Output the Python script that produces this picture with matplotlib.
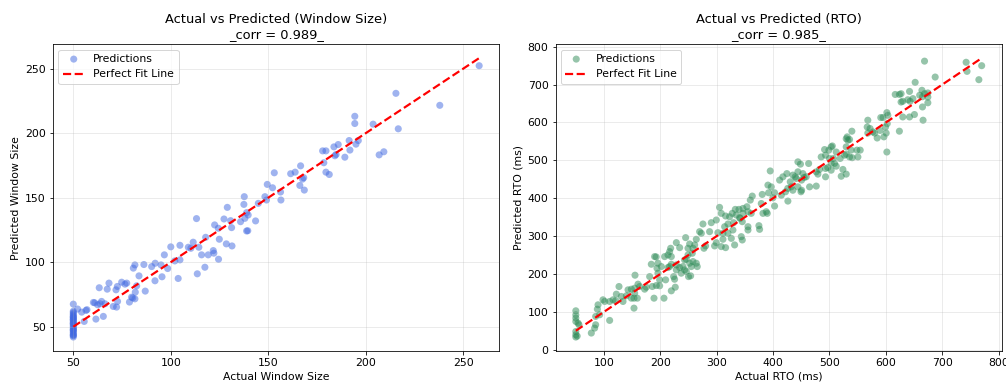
import matplotlib.pyplot as plt

# Window size: actual vs predicted
ws_actual = [258.2, 215.5, 238, 216.7, 194.4, 194.4, 203.8, 206.9, 209.3, 191.5,
             196.2, 195, 191.9, 189.3, 185.9, 183.7, 184.2, 184.8, 177.9, 179.6,
             178.5, 179.6, 181.3, 166.6, 161.5, 163.8, 167.6, 168.2, 166.2, 168.5,
             153.1, 149.5, 152.2, 148.3, 149.1, 156.3, 156.5, 144.9, 137.7, 137.5,
             138.9, 139.7, 138, 135.8, 143.5, 138.9, 139.5, 129, 127.3, 130.7,
             131.2, 122.5, 124.4, 124.9, 128.5, 131.4, 113.2, 111.5, 109, 110.3,
             114.4, 117.9, 115.8, 119.2, 121.8, 122.1, 124.5, 117.5, 113.6, 100,
             104.7, 96.7, 102.1, 104.7, 98.4, 95, 92, 90.2, 86.2, 91.9,
             95.5, 103.8, 81.6, 80.8, 83.7, 86.9, 74.8, 77.4, 76.5, 72.6,
             71.9, 68.3, 67.4, 63.3, 82.5, 81.8, 79.9, 80.5, 81.6, 78.8,
             72.7, 72.2, 70.5, 64.5, 60.3, 61, 63.7, 66.2, 62.5, 65.4,
             61.6, 56.5, 54.3, 55.6, 52.2, 57,
             50, 50, 50, 50, 50, 50, 50, 50, 50, 50, 50, 50, 50, 50,
             50, 50, 50, 50, 50, 50, 50, 50, 50, 50, 50, 50, 50]
ws_pred = [252.3, 230.9, 221.6, 203.4, 213.1, 207.5, 207, 183.2, 185.6, 194.3,
           194.3, 191.5, 186.9, 181.4, 191.2, 189.4, 182.5, 183.5, 186.3, 186.3,
           177.1, 169.8, 168, 174.7, 168.6, 169.8, 164.4, 165.5, 159.5, 155.9,
           169.3, 160.3, 157.7, 150.8, 148.2, 154.4, 148.2, 145.6, 150.8, 144.8,
           138.4, 136.6, 134, 131.4, 132, 124.2, 124.4, 142.5, 133.5, 132.2,
           126.8, 128.9, 126.3, 117.8, 114.2, 112.6, 133.8, 115.5, 111.6, 110.8,
           111.6, 119.3, 105.7, 105.7, 109, 107, 102.3, 96.1, 91, 111.9,
           113.1, 105.7, 101, 101.8, 95.1, 97.9, 99.2, 96.6, 98.2, 85.6,
           88.7, 87.4, 97.9, 95.4, 89.4, 77.6, 84.5, 83.8, 83, 81.2,
           78.6, 83.8, 79.1, 80.2, 81.7, 76.8, 72.9, 72.3, 71.6, 69.1,
           69.6, 65.2, 65.7, 69.6, 68.8, 68.5, 67.8, 67.8, 67, 58,
           55.9, 62.6, 61.3, 54.1, 63.7, 63.2,
           67.5, 62, 61, 60, 59, 58, 57.5, 57, 56, 55.5, 55, 54, 53, 52.5,
           52, 51, 50, 49, 48, 47.5, 47, 46, 45, 44, 43.5, 43, 42]

# RTO: actual vs predicted (ms)
rto_actual = [668.6, 742.4, 770, 744, 765, 687.5, 652, 664, 660, 668.6,
              674.5, 642, 627, 616.6, 624, 630, 627, 643, 639, 648,
              665, 674.5, 665, 674.5, 630, 642, 650.7, 666, 624, 601.8,
              603.5, 595, 591, 602.5, 599.4, 600.6, 596.5, 601.8, 584.6, 580,
              568, 566.9, 572, 577, 568, 589.8, 539.7, 531.4, 529.7, 532.6,
              535.6, 548.6, 554.5, 550.4, 538.5, 529.7, 529.7, 535.6, 526.7, 540.3,
              519, 512, 503, 505, 498.9, 491.3, 485.3, 493, 500, 507,
              503, 509, 512, 497, 503, 493, 482.4, 520.8, 529.7, 523.8,
              493, 479.4, 476.5, 476.5, 464.7, 463, 444, 448.5, 452.8, 458.7,
              444, 435, 439.2, 441, 450.5, 455, 424.4, 417.4, 411.5, 430.4,
              432.2, 444, 450.5, 449.4, 435, 426, 422, 414.6, 426.2, 394.9,
              390.8, 396.7, 402.6, 392, 399.6, 380.7, 379, 402.6, 387.8, 382,
              389.6, 363, 359.5, 353.5, 355.4, 361.2, 346.5, 339.4, 332.9, 327.5,
              334.6, 346.5, 341.7, 305, 308, 299.2, 315.7, 322.8, 329.9, 319.9,
              314, 328.7, 319.9, 311, 302, 290.3, 275.5, 269.6, 287.3, 311,
              325.8, 315.7, 331.7, 343.5, 345.3, 355.4, 355.4, 374.8, 376, 345.3,
              340.5, 308, 296.2, 299.2, 277.3, 280.2, 272.6, 263.7, 260.8, 244.8,
              257.8, 249, 251.9, 256.6, 249, 246, 243, 252, 257.8, 263.7,
              265.4, 234.2, 228.3, 218.2, 216.4, 213.5, 219.4, 189.8, 192.5, 183.9,
              195.7, 207.5, 201.7, 194, 216.4, 219.4, 228.3, 234.2, 228.3, 240,
              243, 237, 246, 250, 253.7, 254.8, 213.5, 223.5, 225.2, 209.3,
              198.7, 192.8, 195.7, 181, 185.7, 198.7, 219.4, 226.4, 206.4, 188.7,
              175, 172.1, 160.3, 163.2, 155, 154.4, 148.5, 154.4, 148.5, 153.2,
              159.1, 153.2, 142.6, 139.6, 126.6, 121.9, 116, 120.7, 130.7, 133.7,
              110, 101.2, 98.2, 89.4, 88.2, 85.2, 85.2, 83.4, 77.5, 110,
              92.3, 50, 50, 50, 50, 54, 55.6, 50, 50, 50, 52.4]
rto_pred = [762, 759, 750, 735, 713, 720, 706, 685, 672, 676,
            678, 682, 676, 674, 674, 656, 654, 656, 660, 663,
            641, 652, 668, 667, 614.6, 614.6, 621, 606, 577, 626,
            619, 613, 613, 597, 588, 572, 562, 522, 559, 572,
            606, 588, 584, 575, 572, 579, 577, 562, 557, 553,
            555, 527, 527, 509, 527, 535.6, 516, 509, 513.6, 507,
            505, 522, 535.6, 538, 527, 528.5, 509, 513.6, 505, 505,
            492, 492, 484.6, 481, 474, 478.5, 476, 458, 463.6, 476,
            456.5, 463.6, 469.7, 432, 430, 491.7, 496, 490, 465, 456.5,
            469.7, 461, 456.5, 452, 447.8, 454.8, 465, 456.5, 447.8, 443.4,
            430, 430, 421, 417, 421, 426, 417, 408, 392.4, 472,
            434.6, 430, 414.4, 414.4, 401, 410, 386, 379.3, 364.4, 360,
            360, 405.6, 395, 377.5, 364.4, 360, 373, 370.5, 370.5, 360,
            355.6, 360, 346.8, 375.8, 360, 342.4, 353, 351, 335.4, 331.9,
            324.8, 316, 307.3, 307.3, 309, 335.4, 331.9, 311.7, 311.7, 291.5,
            294, 269.5, 276.6, 298.5, 289.7, 324.8, 316, 327.5, 317.8, 338,
            348.6, 272.2, 274, 282.7, 267.8, 274, 307.3, 291.5, 276.6, 295.9,
            267.8, 267.8, 279.2, 254.6, 250.2, 238.8, 237, 228.3, 232.7, 228.3,
            219.5, 269.5, 282.7, 267.8, 259, 250.2, 245.8, 245.8, 245, 225.6,
            228.3, 245.8, 219.5, 215, 219.5, 225.6, 223.9, 216.9, 210.7, 219.5,
            210.7, 202, 206.3, 193, 195, 219.5, 216.9, 193, 186, 184.4,
            184.4, 169.4, 202, 193, 166.8, 168.6, 155.4, 165, 136, 136,
            165, 159.8, 173, 166.8, 196.7, 162.4, 159.8, 149.3, 136, 136,
            136, 109.7, 158, 142.2, 166.8, 146.6, 131.7, 129, 140.5, 127.3,
            127.3, 127.3, 131.7, 118.5, 107, 87.8, 65.8, 57, 43.9, 77.3,
            92.2, 102.7, 92, 83.5, 74.5, 70.2, 65.8, 48, 39.5, 33.4, 36]

fig, axes = plt.subplots(1, 2, figsize=(1006 / 72, 384 / 72), dpi=72)
fig.subplots_adjust(left=0.0527, right=0.996, bottom=0.086, top=0.885, wspace=0.1256)

panels = [
    (axes[0], ws_actual, ws_pred, "royalblue", "Window Size", "0.989",
     "Actual Window Size", "Predicted Window Size"),
    (axes[1], rto_actual, rto_pred, "seagreen", "RTO", "0.985",
     "Actual RTO (ms)", "Predicted RTO (ms)"),
]

for ax, act, pred, col, name, corr, xl, yl in panels:
    ax.scatter(act, pred, color=col, alpha=0.5, s=50, edgecolors="none", label="Predictions")
    lo, hi = min(act), max(act)
    ax.plot([lo, hi], [lo, hi], color="red", linestyle="--", lw=2.2, label="Perfect Fit Line")
    ax.set_title(f"Actual vs Predicted ({name})\n_corr = {corr}_", fontsize=13)
    ax.set_xlabel(xl, fontsize=10.9)
    ax.set_ylabel(yl, fontsize=10.9)
    ax.tick_params(labelsize=10.9)
    ax.grid(True, alpha=0.3)
    ax.legend(loc="upper left", fontsize=10.9)

axes[0].set_xticks([50, 100, 150, 200, 250])
axes[0].set_yticks([50, 100, 150, 200, 250])
axes[1].set_xticks([100, 200, 300, 400, 500, 600, 700, 800])
axes[1].set_yticks([0, 100, 200, 300, 400, 500, 600, 700, 800])

plt.savefig("out.png", dpi=72)
